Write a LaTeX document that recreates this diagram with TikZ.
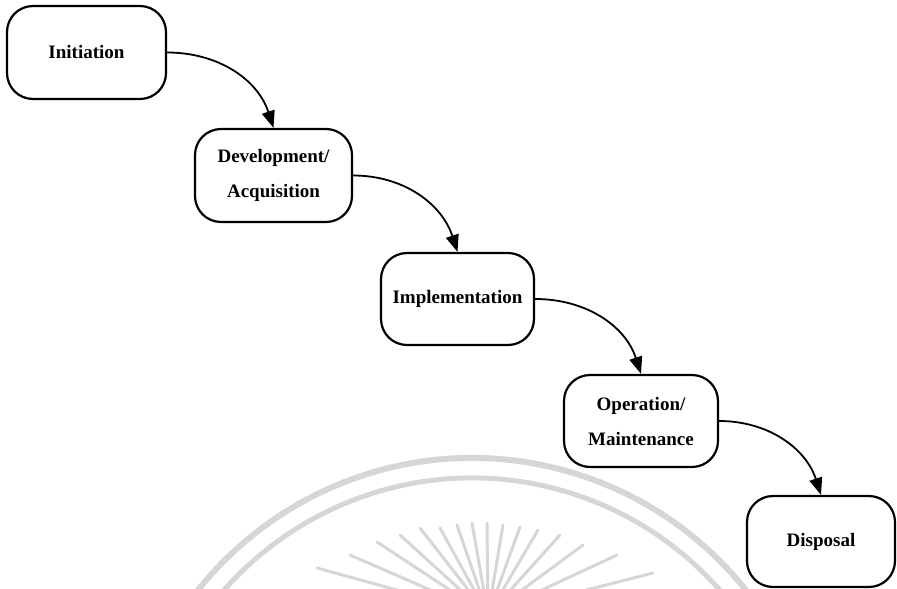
\documentclass[tikz,border=0pt]{standalone}
\usepackage{fontspec}
\setmainfont{Liberation Serif}
\usetikzlibrary{arrows.meta,calc}

\tikzset{
  stage/.style={draw=black, fill=white, line width=2.2pt, rounded corners=26pt,
    inner sep=0pt, align=center, text=black,
    font=\fontsize{19}{35}\selectfont\bfseries},
  flow/.style={line width=1.8pt, -{Triangle[length=17pt,width=13pt]}},
  seal/.style={draw=black!16, line cap=round},
}

\begin{document}
\begin{tikzpicture}[x=1pt, y=-1pt]
\useasboundingbox (0,0) rectangle (897,589);

% faint emblem in the background
\begin{scope}
  \clip (0,0) rectangle (897,589);
  \coordinate (ring) at (472,808);
  \draw[seal, line width=6pt] (ring) ++(198:350) arc[start angle=198, end angle=342, radius=350];
  \draw[seal, line width=5pt] (ring) ++(198:330) arc[start angle=198, end angle=342, radius=330];
  \coordinate (hub) at (488,615);
  \foreach \px/\py in {317/568, 350/555, 377/542, 400/535, 420/528, 440/528,
                       457/525, 472/523, 487/523, 503/525, 520/527, 538/530,
                       560/535, 583/545, 617/555, 653/573}
    \draw[seal, line width=3pt] (\px,\py) -- ($(\px,\py)!0.8!(hub)$);
\end{scope}

% life-cycle stages
\node[stage, minimum width=159pt, minimum height=93pt] (ini) at (86.5,52.5) {Initiation};
\node[stage, minimum width=157pt, minimum height=93pt] (dev) at (273.5,175.5) {Development/\\Acquisition};
\node[stage, minimum width=153pt, minimum height=92pt] (imp) at (457.5,299) {Implementation};
\node[stage, minimum width=154pt, minimum height=92pt] (ops) at (641,421) {Operation/\\Maintenance};
\node[stage, minimum width=148pt, minimum height=91pt] (dis) at (821,541.5) {Disposal};

% transitions
\draw[flow] (ini.east) to[out=0, in=108] (dev.north);
\draw[flow] (dev.east) to[out=0, in=108] (imp.north);
\draw[flow] (imp.east) to[out=0, in=108] (ops.north);
\draw[flow] (ops.east) to[out=0, in=108] (dis.north);
\end{tikzpicture}
\end{document}
